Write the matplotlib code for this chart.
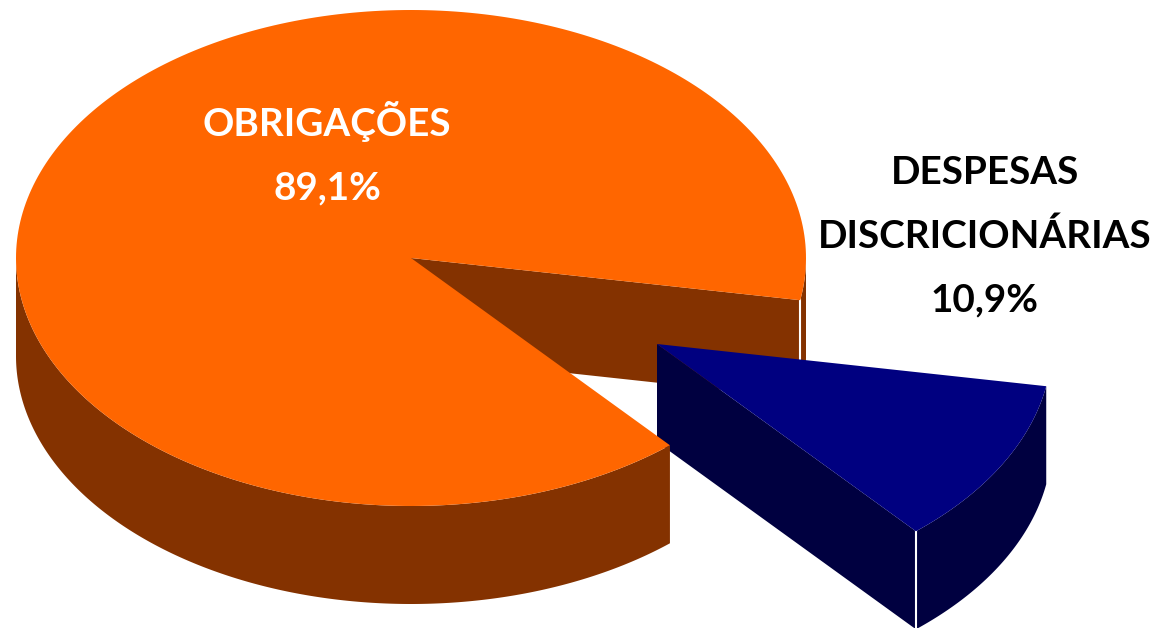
#!/usr/bin/env python3
import numpy as np
import matplotlib
matplotlib.use('Agg')
import matplotlib.pyplot as plt
from matplotlib.patches import Polygon

labels = ['OBRIGAÇÕES\n89,1%', 'DESPESAS\nDISCRICIONÁRIAS\n10,9%']
shares = [89.1, 10.9]
top_colors = ['#ff6600', '#000080']
side_colors = ['#843200', '#000040']

# pie geometry in pixels
cx, cy = 411, 258
rx, ry = 395, 248
depth = 98
start = -9.8  # degrees, where the small slice begins
off_x, off_y = 246, 86


def rim(a0, a1, dx=0, dy=0):
    t = np.radians(np.linspace(a0, a1, 300))
    return np.column_stack((cx + dx + rx * np.cos(t), cy + dy - ry * np.sin(t)))


def wall(pts):
    low = pts[::-1] + [0, depth]
    return np.vstack((pts, low))


fig = plt.figure(figsize=(11.55, 6.28), dpi=100)
ax = fig.add_axes([0, 0, 1, 1])
ax.set_xlim(0, 1155)
ax.set_ylim(628, 0)
ax.axis('off')

small = shares[1] / sum(shares) * 360
end = start - small

# back of the orange slice goes first, the blue slice sits on top of it
cut = np.array([[cx, cy], rim(start, start)[0]])
ax.add_patch(Polygon(wall(cut), fc=side_colors[0], ec='none', zorder=1))
ax.add_patch(Polygon(wall(rim(start, 0)), fc=side_colors[0], ec='none', zorder=1))
ax.plot([cut[1, 0]] * 2, [cut[1, 1], cut[1, 1] + depth], color='white', lw=1.5, zorder=1)

# blue slice pulled out
apex = np.array([[cx + off_x, cy + off_y]])
arc = rim(end, start, off_x, off_y)
ax.add_patch(Polygon(wall(np.vstack((apex, arc[:1]))), fc=side_colors[1], ec='none', zorder=2))
ax.add_patch(Polygon(wall(arc), fc=side_colors[1], ec='none', zorder=2))
ax.plot([arc[0, 0]] * 2, [arc[0, 1], arc[0, 1] + depth], color='white', lw=1.5, zorder=3)
ax.add_patch(Polygon(np.vstack((apex, arc)), fc=top_colors[1], ec='none', zorder=3))

# front of the orange slice hides the corner of the blue one
ax.add_patch(Polygon(wall(rim(end, -180)), fc=side_colors[0], ec='none', zorder=4))
top = np.vstack(([[cx, cy]], rim(start, start + 360 - small)))
ax.add_patch(Polygon(top, fc=top_colors[0], ec='none', zorder=5))

ax.text(327, 153.5, labels[0], color='white', fontsize=27.8, fontweight='bold',
        family='Lato', ha='center', va='center', linespacing=1.97, zorder=6)
ax.text(985, 236.5, labels[1], color='black', fontsize=27.8, fontweight='bold',
        family='Lato', ha='center', va='center', linespacing=1.97, zorder=6)

fig.savefig('out.png', dpi=100)
